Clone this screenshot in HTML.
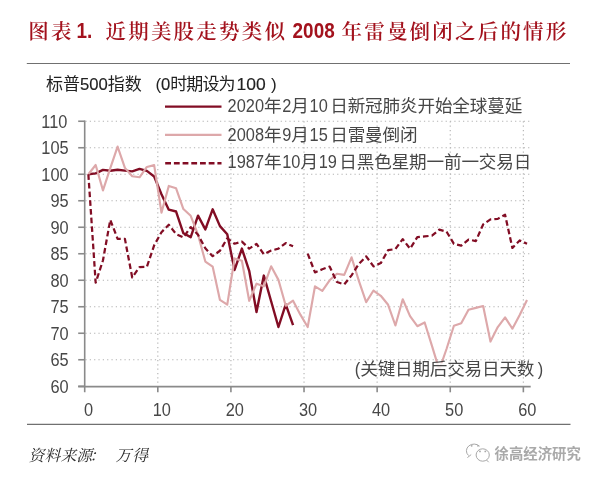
<!DOCTYPE html><html><head><meta charset="utf-8"><style>html,body{margin:0;padding:0;background:#fff;}svg{display:block;}.t{font-family:"Liberation Sans","Noto Sans CJK SC",sans-serif;fill:#474747;}.ttl{font-family:"Liberation Sans","Noto Serif CJK SC",serif;fill:#a3121d;}.ttl .b{font-weight:bold;}</style></head><body><svg width="600" height="479" viewBox="0 0 600 479"><rect width="600" height="479" fill="#fff"/><g class="ttl"><text x="28.20" y="39.20" font-size="20.5" letter-spacing="2.20" font-weight="600">图表</text><text transform="translate(76.40,37.80) scale(0.83,1)" font-size="22.8" class="b" >1.</text><text x="105.50" y="39.20" font-size="20.5" letter-spacing="2.20" font-weight="600">近期美股走势类似</text><text transform="translate(292.60,37.80) scale(0.83,1)" font-size="22.8" class="b" >2008</text><text x="341.50" y="39.20" font-size="20.5" letter-spacing="2.20" font-weight="600">年雷曼倒闭之后的情形</text></g><line x1="26.8" y1="63.5" x2="570" y2="63.5" stroke="#707070" stroke-width="1.1"/><g class="t" style="fill:#222"><text x="46.00" y="90.20" font-size="17" letter-spacing="0.00" >标普</text><text transform="translate(80.00,90.20) scale(0.98,1)" font-size="17"  stroke="#1a1a1a" stroke-width="0.15">500</text><text x="107.80" y="90.20" font-size="17" letter-spacing="0.00" >指数</text><text transform="translate(155.60,90.20) scale(1.0,1)" font-size="17"  >(</text><text transform="translate(161.00,90.20) scale(0.98,1)" font-size="17"  stroke="#1a1a1a" stroke-width="0.15">0</text><text x="170.27" y="90.20" font-size="17" letter-spacing="-0.90" >时期设为</text><text transform="translate(236.60,90.20) scale(1.03,1)" font-size="17"  stroke="#1a1a1a" stroke-width="0.15">100</text><text transform="translate(271.00,90.20) scale(1.0,1)" font-size="17"  >)</text></g><g stroke="#b4b4b4" stroke-width="1.15" stroke-dasharray="1.25 3.09"><line x1="85.4" y1="359.75" x2="530.7" y2="359.75"/><line x1="85.4" y1="333.25" x2="530.7" y2="333.25"/><line x1="85.4" y1="306.75" x2="530.7" y2="306.75"/><line x1="85.4" y1="280.25" x2="530.7" y2="280.25"/><line x1="85.4" y1="253.75" x2="530.7" y2="253.75"/><line x1="85.4" y1="227.25" x2="530.7" y2="227.25"/><line x1="85.4" y1="200.75" x2="530.7" y2="200.75"/><line x1="85.4" y1="174.25" x2="530.7" y2="174.25"/><line x1="85.4" y1="147.75" x2="530.7" y2="147.75"/><line x1="85.4" y1="121.25" x2="530.7" y2="121.25"/><line x1="157.81" y1="121.2" x2="157.81" y2="386"/><line x1="230.92" y1="121.2" x2="230.92" y2="386"/><line x1="304.03" y1="121.2" x2="304.03" y2="386"/><line x1="377.14" y1="121.2" x2="377.14" y2="386"/><line x1="450.25" y1="121.2" x2="450.25" y2="386"/><line x1="523.36" y1="121.2" x2="523.36" y2="386"/></g><g stroke="#8a8a8a" stroke-width="1.6"><line x1="84.7" y1="120.5" x2="84.7" y2="392.3"/><line x1="78.2" y1="386.6" x2="530.7" y2="386.6"/><line x1="78.2" y1="386.25" x2="84.7" y2="386.25"/><line x1="78.2" y1="359.75" x2="84.7" y2="359.75"/><line x1="78.2" y1="333.25" x2="84.7" y2="333.25"/><line x1="78.2" y1="306.75" x2="84.7" y2="306.75"/><line x1="78.2" y1="280.25" x2="84.7" y2="280.25"/><line x1="78.2" y1="253.75" x2="84.7" y2="253.75"/><line x1="78.2" y1="227.25" x2="84.7" y2="227.25"/><line x1="78.2" y1="200.75" x2="84.7" y2="200.75"/><line x1="78.2" y1="174.25" x2="84.7" y2="174.25"/><line x1="78.2" y1="147.75" x2="84.7" y2="147.75"/><line x1="78.2" y1="121.25" x2="84.7" y2="121.25"/><line x1="157.81" y1="386.6" x2="157.81" y2="392.3"/><line x1="230.92" y1="386.6" x2="230.92" y2="392.3"/><line x1="304.03" y1="386.6" x2="304.03" y2="392.3"/><line x1="377.14" y1="386.6" x2="377.14" y2="392.3"/><line x1="450.25" y1="386.6" x2="450.25" y2="392.3"/><line x1="523.36" y1="386.6" x2="523.36" y2="392.3"/></g><g class="t"><text transform="translate(50.40,392.95) scale(0.88,1)" font-size="18.6"  >60</text><text transform="translate(50.40,366.45) scale(0.88,1)" font-size="18.6"  >65</text><text transform="translate(50.40,339.95) scale(0.88,1)" font-size="18.6"  >70</text><text transform="translate(50.40,313.45) scale(0.88,1)" font-size="18.6"  >75</text><text transform="translate(50.40,286.95) scale(0.88,1)" font-size="18.6"  >80</text><text transform="translate(50.40,260.45) scale(0.88,1)" font-size="18.6"  >85</text><text transform="translate(50.40,233.95) scale(0.88,1)" font-size="18.6"  >90</text><text transform="translate(50.40,207.45) scale(0.88,1)" font-size="18.6"  >95</text><text transform="translate(41.30,180.95) scale(0.88,1)" font-size="18.6"  >100</text><text transform="translate(41.30,154.45) scale(0.88,1)" font-size="18.6"  >105</text><text transform="translate(41.30,127.95) scale(0.88,1)" font-size="18.6"  >110</text></g><g class="t"><text transform="translate(84.11,416.20) scale(0.88,1)" font-size="18.6"  >0</text><text transform="translate(152.66,416.20) scale(0.88,1)" font-size="18.6"  >10</text><text transform="translate(225.77,416.20) scale(0.88,1)" font-size="18.6"  >20</text><text transform="translate(298.88,416.20) scale(0.88,1)" font-size="18.6"  >30</text><text transform="translate(371.99,416.20) scale(0.88,1)" font-size="18.6"  >40</text><text transform="translate(445.10,416.20) scale(0.88,1)" font-size="18.6"  >50</text><text transform="translate(518.21,416.20) scale(0.88,1)" font-size="18.6"  >60</text></g><polyline points="88.36,174.25 95.67,173.35 102.98,169.90 110.29,170.80 117.60,169.80 124.91,170.59 132.22,171.39 139.53,168.84 146.84,170.91 154.15,176.53 161.47,194.18 168.78,209.65 176.09,211.51 183.40,233.29 190.71,237.16 198.02,215.64 205.33,229.37 212.64,209.34 219.95,226.14 227.26,234.30 234.58,269.97 241.89,248.56 249.20,270.82 256.51,312.05 263.82,275.59 271.13,301.29 278.44,327.00 285.75,304.37 293.06,325.09" fill="none" stroke="#820d24" stroke-width="2.4" stroke-linejoin="round"/><polyline points="88.36,174.25 95.67,164.97 102.98,190.36 110.29,168.10 117.60,146.53 124.91,167.84 132.22,176.26 139.53,177.27 146.84,166.94 154.15,165.13 161.47,212.62 168.78,185.96 176.09,188.30 183.40,209.07 190.71,215.80 198.02,234.62 205.33,261.54 212.64,266.58 219.95,299.91 227.26,304.68 234.58,258.41 241.89,260.75 249.20,300.81 256.51,283.70 263.82,286.29 271.13,266.36 278.44,279.88 285.75,305.74 293.06,300.71 300.37,314.65 307.69,327.00 315.00,286.29 322.31,290.96 329.62,280.30 336.93,273.78 344.24,274.84 351.55,257.30 358.86,280.89 366.17,302.14 373.48,290.53 380.80,295.78 388.11,304.79 395.42,325.51 402.73,299.28 410.04,316.18 417.35,326.20 424.66,322.49 431.97,345.81 439.28,369.87 446.59,348.73 453.91,325.72 461.22,323.23 468.53,309.77 475.84,307.86 483.15,306.01 490.46,341.57 497.77,327.05 505.08,317.35 512.39,328.64 519.70,314.96 527.02,300.02" fill="none" stroke="#dda8aa" stroke-width="2.15" stroke-linejoin="round"/><polyline points="88.36,174.25 95.67,282.74 102.98,260.27 110.29,219.83 117.60,238.86 124.91,238.91 132.22,277.44 139.53,267.05 146.84,266.89 154.15,245.38 161.47,232.18 168.78,224.76 176.09,234.03 183.40,237.48 190.71,227.14 198.02,234.78 205.33,248.34 212.64,256.19 219.95,250.73 227.26,238.33 234.58,243.73 241.89,241.61 249.20,248.61 256.51,243.89 263.82,254.23 271.13,250.57 278.44,248.71 285.75,243.04 293.06,246.33" fill="none" stroke="#820d24" stroke-width="2.25" stroke-dasharray="5.6 3.1" stroke-linejoin="round"/><polyline points="307.69,253.64 315.00,272.46 322.31,269.28 329.62,266.58 336.93,282.05 344.24,284.44 351.55,275.37 358.86,263.87 366.17,256.40 373.48,266.36 380.80,263.08 388.11,250.20 395.42,249.03 402.73,239.18 410.04,248.71 417.35,237.11 424.66,236.42 431.97,235.62 439.28,229.64 446.59,231.75 453.91,243.84 461.22,245.69 468.53,239.55 475.84,241.03 483.15,224.44 490.46,219.35 497.77,218.88 505.08,214.80 512.39,247.92 519.70,240.50 527.02,243.68" fill="none" stroke="#820d24" stroke-width="2.25" stroke-dasharray="5.6 3.1" stroke-linejoin="round"/><rect x="430" y="362.5" width="17.5" height="16" fill="#fff" fill-opacity="0.85"/><line x1="165" y1="106.6" x2="221.5" y2="106.6" stroke="#820d24" stroke-width="2.4"/><line x1="165" y1="134.9" x2="221.5" y2="134.9" stroke="#dda8aa" stroke-width="2.3"/><line x1="165.2" y1="163.2" x2="221.5" y2="163.2" stroke="#820d24" stroke-width="2.4" stroke-dasharray="5.8 2.9"/><g class="t"><text transform="translate(227.60,112.30) scale(0.88,1)" font-size="18.6"  >2020</text><text x="264.01" y="112.30" font-size="17.6" letter-spacing="0.65" >年</text><text transform="translate(282.26,112.30) scale(0.88,1)" font-size="18.6"  >2</text><text x="291.37" y="112.30" font-size="17.6" letter-spacing="0.65" >月</text><text transform="translate(309.62,112.30) scale(0.88,1)" font-size="18.6"  >10</text><text x="330.22" y="112.30" font-size="17.6" letter-spacing="-0.15" >日新冠肺炎开始全球蔓延</text><text transform="translate(227.60,140.70) scale(0.88,1)" font-size="18.6"  >2008</text><text x="264.01" y="140.70" font-size="17.6" letter-spacing="0.65" >年</text><text transform="translate(282.26,140.70) scale(0.88,1)" font-size="18.6"  >9</text><text x="291.37" y="140.70" font-size="17.6" letter-spacing="0.65" >月</text><text transform="translate(309.62,140.70) scale(0.88,1)" font-size="18.6"  >15</text><text x="330.22" y="140.70" font-size="17.6" letter-spacing="-0.15" >日雷曼倒闭</text><text transform="translate(227.60,168.30) scale(0.88,1)" font-size="18.6"  >1987</text><text x="264.01" y="168.30" font-size="17.6" letter-spacing="0.65" >年</text><text transform="translate(282.26,168.30) scale(0.88,1)" font-size="18.6"  >10</text><text x="300.47" y="168.30" font-size="17.6" letter-spacing="0.65" >月</text><text transform="translate(318.72,168.30) scale(0.88,1)" font-size="18.6"  >19</text><text x="339.32" y="168.30" font-size="17.6" letter-spacing="-0.15" >日黑色星期一前一交易日</text><text transform="translate(354.80,375.10) scale(0.88,1)" font-size="18.6"  >(</text><text x="360.25" y="375.10" font-size="17.6" letter-spacing="-0.20" >关键日期后交易日天数</text><text transform="translate(537.85,375.10) scale(0.88,1)" font-size="18.6"  >)</text></g><line x1="27" y1="424.4" x2="570.5" y2="424.4" stroke="#707070" stroke-width="1.1"/><g font-family="'Liberation Serif','Noto Serif CJK SC',serif" font-style="italic" fill="#2b2b2b"><text x="28.60" y="460.50" font-size="15.8" letter-spacing="0.10" >资料来源</text><text x="89.40" y="460.50" font-size="15.8" letter-spacing="0.10" >：</text><text x="115.50" y="460.50" font-size="15.8" letter-spacing="1.00" >万得</text></g><g fill="none" stroke="#a8a8a8" stroke-width="1"><path d="M468.5,455.5 A7,6.2 0 1 1 479.6,446.2"/><path d="M471.2,454.6 l-3.8,3"/><ellipse cx="482.7" cy="455" rx="6.6" ry="6.2" fill="#fff"/><path d="M486.5,460 l2.2,2.2"/></g><g fill="#a8a8a8"><circle cx="471.7" cy="445.8" r="0.9"/><circle cx="478" cy="445.8" r="0.9"/><circle cx="480" cy="451.4" r="0.9"/><circle cx="485.3" cy="451.4" r="0.9"/></g><text x="494.5" y="458.6" font-family="'Liberation Sans','Noto Sans CJK SC',sans-serif" font-size="14.4" font-weight="bold" fill="#a9a9a9" letter-spacing="0">徐高经济研究</text></svg></body></html>
